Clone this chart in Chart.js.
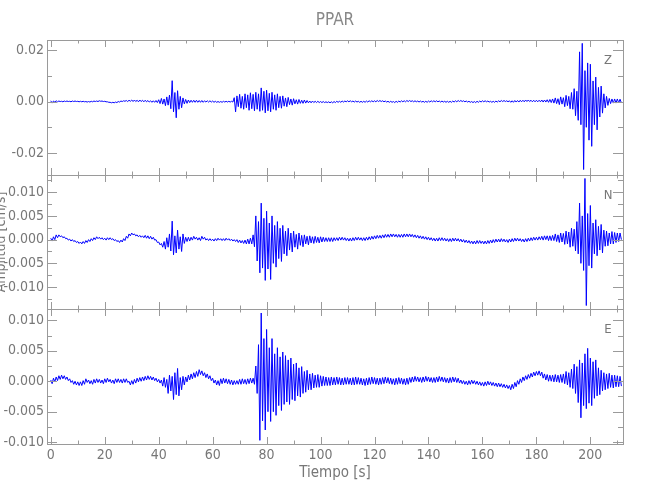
<!DOCTYPE html>
<html>
<head>
<meta charset="utf-8">
<script src="https://cdn.jsdelivr.net/npm/chart.js@4/dist/chart.umd.min.js"></script>
<style>
html,body{margin:0;padding:0;background:#ffffff;}
#wrap{width:650px;height:500px;}
</style>
</head>
<body>
<div id="wrap"><canvas id="c" width="650" height="500"></canvas></div>
<script>
// ---------- text ----------
const TITLE = 'PPAR';
const X_TITLE = 'Tiempo [s]';
const Y_TITLE = 'Amplitud [cm/s]';
const COMPONENTS = ['Z', 'N', 'E'];

// ---------- ticks ----------
const X_TICKS = [0, 20, 40, 60, 80, 100, 120, 140, 160, 180, 200];
const X_TICK_LABELS = ['0', '20', '40', '60', '80', '100', '120', '140', '160', '180', '200'];
const X_MINOR = [10, 30, 50, 70, 90, 110, 130, 150, 170, 190, 210];

const Z_TICKS = [-0.02, 0, 0.02];
const Z_TICK_LABELS = ['-0.02', '0.00', '0.02'];
const Z_MINOR = [-0.01, 0.01];

const N_TICKS = [-0.01, -0.005, 0, 0.005, 0.01];
const N_TICK_LABELS = ['-0.010', '-0.005', '0.000', '0.005', '0.010'];
const N_MINOR = [-0.0125, -0.0075, -0.0025, 0.0025, 0.0075, 0.0125];

const E_TICKS = [-0.01, -0.005, 0, 0.005, 0.01];
const E_TICK_LABELS = ['-0.010', '-0.005', '0.000', '0.005', '0.010'];
const E_MINOR = [-0.0075, -0.0025, 0.0025, 0.0075];

// ---------- data ----------
// Each trace is read as the maximum (HI) and minimum (LO) of the ground velocity
// inside consecutive 1 s windows starting at t = 0 s. Values in units of 1e-4 cm/s.
const UNIT = 1e-4;

const Z_HI = [
 3,2,3,2,1,2,2,1,2,2,
 1,1,1,0,0,1,2,2,3,2,
 1,-1,-3,-3,-2,0,2,3,4,5,
 6,6,5,6,5,5,4,3,3,4,
 7,12,10,18,25,81,35,42,20,14,
 8,6,5,5,5,4,4,3,3,3,
 2,1,0,0,1,1,1,1,15,22,
 28,20,30,26,34,28,36,30,53,40,
 44,32,36,26,30,20,22,14,16,10,
 11,7,8,5,6,4,2,2,1,1,
 0,0,-1,-1,-1,0,1,1,2,2,
 3,3,2,2,1,1,1,2,3,3,
 3,4,4,3,2,1,1,0,1,2,
 3,3,4,4,3,3,2,2,1,1,
 2,3,3,3,2,2,1,1,1,2,
 3,4,4,3,2,1,0,0,1,2,
 3,3,2,1,1,2,3,4,4,3,
 3,3,4,4,5,5,6,6,5,5,
 5,5,6,6,7,8,10,14,11,18,
 15,24,20,35,50,40,193,226,120,150,
 145,80,95,55,60,30,20,12,10,10,
 10,9
];
const Z_LO = [
 -6,-2,-1,0,-1,0,0,-1,0,0,
 -1,-1,-1,-2,-2,-1,0,0,1,0,
 -1,-3,-5,-5,-4,-2,0,1,0,1,
 0,0,-1,0,-1,-1,-2,-3,-3,-4,
 -8,-10,-16,-14,-28,-40,-63,-30,-24,-9,
 -7,-4,-3,-3,-3,-3,-3,-2,-2,-2,
 -3,-3,-3,-3,-2,-2,-2,-2,-40,-20,
 -26,-30,-24,-34,-28,-36,-30,-38,-34,-44,
 -36,-40,-30,-34,-24,-26,-18,-20,-12,-14,
 -9,-10,-7,-7,-6,-5,-5,-4,-4,-4,
 -4,-4,-4,-5,-5,-4,-3,-3,-2,-1,
 -1,-1,-2,-2,-3,-3,-3,-2,-1,-1,
 -1,0,0,-1,-2,-3,-3,-4,-3,-2,
 -1,-1,0,0,-1,-1,-2,-2,-3,-3,
 -2,-1,-1,-1,-2,-2,-3,-3,-3,-2,
 -1,0,0,-1,-2,-3,-4,-4,-3,-2,
 -1,-1,-2,-3,-3,-2,-1,0,0,-1,
 -3,-3,-2,-2,-1,-1,0,0,-1,-1,
 -1,-1,-2,-2,-3,-4,-6,-8,-12,-10,
 -20,-16,-28,-30,-55,-73,-90,-264,-100,-150,
 -174,-90,-110,-60,-45,-25,-15,-8,-6,-6,
 -5,-5
];

const N_HI = [
 3,6,10,10,8,6,3,1,0,-2,
 -4,-5,-4,-2,0,2,4,6,5,4,
 3,4,4,2,0,-2,-1,2,7,12,
 14,12,10,9,8,9,8,7,5,0,
 -5,-8,-4,4,12,39,8,20,6,12,
 5,5,5,7,5,4,7,5,2,2,
 1,2,3,2,2,3,2,1,0,0,
 -1,-2,-1,1,3,10,50,38,77,45,
 60,35,50,30,38,24,30,18,24,14,
 18,11,14,9,10,7,8,6,7,5,
 6,5,4,4,4,4,4,5,5,4,
 3,3,4,5,5,4,4,5,6,7,
 8,9,9,10,11,11,12,12,11,11,
 11,12,12,12,11,10,9,8,7,6,
 5,4,3,3,4,4,3,2,2,3,
 3,2,1,0,-1,-2,-3,-3,-2,-2,
 -3,-3,-2,-1,0,1,1,2,1,0,
 1,2,3,3,2,1,2,3,4,5,
 5,6,7,8,8,8,9,12,10,14,
 13,18,16,24,22,38,77,50,129,55,
 72,35,42,28,32,20,18,14,17,15,
 14,14
];
const N_LO = [
 -3,0,4,6,4,2,-1,-3,-4,-6,
 -8,-9,-8,-6,-4,-2,0,2,1,0,
 -1,0,0,-2,-4,-6,-5,-2,3,8,
 10,8,6,5,4,3,2,1,-1,-6,
 -11,-16,-20,-16,-24,-32,-28,-20,-25,-8,
 -4,-3,-1,1,-1,-2,1,-1,-2,-2,
 -3,-2,-1,-2,-2,-1,-2,-3,-4,-6,
 -7,-8,-9,-9,-9,-15,-45,-70,-60,-86,
 -62,-84,-50,-58,-40,-46,-30,-34,-22,-26,
 -16,-20,-12,-15,-9,-11,-7,-8,-6,-7,
 -5,-4,-4,-4,-4,-2,-2,-1,-1,-2,
 -3,-3,-2,-1,-1,-2,-2,-1,0,1,
 2,3,3,4,5,5,6,6,5,5,
 5,6,6,6,5,4,3,2,1,0,
 -1,-2,-3,-3,-2,-2,-3,-4,-4,-3,
 -3,-4,-5,-6,-7,-8,-9,-9,-8,-8,
 -9,-9,-8,-7,-6,-5,-5,-4,-5,-6,
 -5,-4,-3,-3,-4,-5,-4,-3,-2,-1,
 -1,0,-1,0,-2,-2,-2,-4,-6,-5,
 -10,-9,-16,-14,-24,-30,-50,-65,-139,-55,
 -60,-30,-34,-22,-28,-14,-13,-9,-9,-6,
 -4,0
];

const E_HI = [
 2,5,7,9,10,9,7,4,1,0,
 -1,-1,1,4,2,1,3,4,3,2,
 4,5,3,2,4,4,3,4,4,0,
 1,3,5,6,7,8,9,8,7,5,
 3,2,6,3,10,8,14,21,6,8,
 7,10,12,14,16,19,17,14,12,9,
 5,2,1,4,5,4,3,2,1,1,
 3,4,3,4,5,5,25,60,112,70,
 85,55,70,45,55,40,48,42,35,38,
 28,30,22,24,16,18,12,13,10,11,
 9,8,7,6,7,6,7,6,5,6,
 6,5,6,7,6,5,4,5,6,7,
 6,5,5,6,7,6,5,4,5,6,
 5,4,5,6,7,8,7,6,7,8,
 7,6,6,7,8,7,6,5,6,7,
 6,5,2,1,0,1,2,1,0,-1,
 -2,-1,0,-1,-2,-3,-3,-4,-5,-6,
 -7,-5,-2,1,4,7,9,11,13,15,
 16,17,15,12,11,10,10,11,10,11,
 12,16,14,20,28,24,35,30,45,54,
 38,32,35,22,18,14,12,13,10,10,
 9,8
];
const E_LO = [
 -4,-1,1,3,4,3,1,-2,-5,-6,
 -7,-7,-5,-2,-4,-5,-3,-2,-3,-4,
 -2,-1,-3,-4,-2,-2,-3,-2,-2,-6,
 -5,-3,-1,0,1,2,3,2,1,-1,
 -3,-8,-10,-20,-16,-30,-22,-24,-14,-6,
 -1,2,4,6,8,11,9,6,4,1,
 -3,-6,-7,-4,-3,-4,-5,-6,-5,-5,
 -5,-4,-5,-4,-3,-5,-20,-97,-65,-80,
 -50,-66,-50,-56,-40,-48,-38,-34,-38,-30,
 -32,-24,-26,-20,-18,-14,-14,-11,-10,-10,
 -8,-7,-7,-7,-6,-6,-5,-6,-6,-5,
 -5,-6,-6,-5,-5,-6,-7,-6,-5,-4,
 -5,-6,-5,-4,-3,-4,-5,-6,-5,-4,
 -5,-6,-5,-2,-1,0,-1,-2,-1,0,
 -1,-2,-2,-1,0,-1,-2,-3,-2,-1,
 -2,-3,-4,-5,-6,-5,-4,-5,-6,-7,
 -8,-7,-6,-7,-8,-9,-9,-10,-11,-12,
 -14,-12,-9,-5,-2,1,3,5,7,9,
 10,9,5,2,0,0,-1,-1,-2,-2,
 -4,-6,-10,-12,-20,-35,-60,-40,-45,-36,
 -40,-28,-24,-22,-16,-14,-12,-10,-11,-9,
 -9,-8
];

// ---------- build ----------
function tracePoints(hi, lo) {
  const pts = [];
  for (let i = 0; i < hi.length; i++) {
    pts.push({x: i, y: hi[i] * UNIT});
    pts.push({x: i + 0.5, y: lo[i] * UNIT});
  }
  return pts;
}

const FONT_FAMILY = "'Liberation Sans Narrow', 'DejaVu Sans Condensed', 'Liberation Sans', sans-serif";
const TEXT_COLOR = '#777777';
const TITLE_COLOR = '#888888';
const FRAME_COLOR = '#9a9a9a';
const TRACE_COLOR = '#0000ff';

const PANELS = [
  {id: 'yZ', name: COMPONENTS[0], ticks: Z_TICKS, labels: Z_TICK_LABELS, minor: Z_MINOR},
  {id: 'yN', name: COMPONENTS[1], ticks: N_TICKS, labels: N_TICK_LABELS, minor: N_MINOR},
  {id: 'yE', name: COMPONENTS[2], ticks: E_TICKS, labels: E_TICK_LABELS, minor: E_MINOR}
];

function yAxis(panel, min, max) {
  return {
    type: 'linear',
    position: 'left',
    stack: 'panels',
    stackWeight: 1,
    min: min,
    max: max,
    grid: {display: false, drawTicks: false},
    border: {display: false},
    ticks: {
      autoSkip: false,
      padding: 3,
      color: TEXT_COLOR,
      font: {family: FONT_FAMILY, size: 14},
      callback: (v) => {
        const k = panel.ticks.findIndex(t => Math.abs(t - v) < 1e-9);
        return k >= 0 ? panel.labels[k] : '';
      }
    },
    afterBuildTicks: (s) => { s.ticks = panel.ticks.map(v => ({value: v})); },
    afterFit: (s) => { s.width = 47; }
  };
}

const framePlugin = {
  id: 'seisFrame',
  afterDraw(chart) {
    const ctx = chart.ctx;
    const xs = chart.scales.x;
    const left = chart.chartArea.left, right = chart.chartArea.right;
    ctx.save();
    ctx.strokeStyle = FRAME_COLOR;
    ctx.lineWidth = 1;
    for (const p of PANELS) {
      const s = chart.scales[p.id];
      const top = Math.round(s.top), bottom = Math.round(s.bottom);
      ctx.strokeRect(Math.round(left) + 0.5, top + 0.5, Math.round(right - left), bottom - top);
      ctx.beginPath();
      const xt = (v, len) => {
        const px = Math.round(xs.getPixelForValue(v)) + 0.5;
        ctx.moveTo(px, top); ctx.lineTo(px, top + len);
        ctx.moveTo(px, bottom); ctx.lineTo(px, bottom - len);
      };
      X_TICKS.forEach(v => xt(v, 7));
      X_MINOR.forEach(v => xt(v, 3.5));
      const yt = (v, len) => {
        const py = Math.round(s.getPixelForValue(v)) + 0.5;
        ctx.moveTo(left, py); ctx.lineTo(left + len, py);
        ctx.moveTo(right, py); ctx.lineTo(right - len, py);
      };
      p.ticks.forEach(v => yt(v, 10));
      p.minor.forEach(v => yt(v, 5));
      ctx.stroke();
      ctx.fillStyle = TEXT_COLOR;
      ctx.font = '13px ' + FONT_FAMILY;
      ctx.textAlign = 'center';
      ctx.textBaseline = 'middle';
      ctx.fillText(p.name, right - 15, top + 21);
    }
    // y-axis title, rotated, partly cut by the left edge as in the original
    const sN = chart.scales.yN;
    ctx.translate(5, (sN.top + sN.bottom) / 2);
    ctx.rotate(-Math.PI / 2);
    ctx.font = '14px ' + FONT_FAMILY;
    ctx.textAlign = 'center';
    ctx.textBaseline = 'alphabetic';
    ctx.fillStyle = TEXT_COLOR;
    ctx.fillText(Y_TITLE, 0, 0);
    ctx.restore();
  }
};

const datasets = [
  {label: COMPONENTS[0], data: tracePoints(Z_HI, Z_LO), yAxisID: 'yZ'},
  {label: COMPONENTS[1], data: tracePoints(N_HI, N_LO), yAxisID: 'yN'},
  {label: COMPONENTS[2], data: tracePoints(E_HI, E_LO), yAxisID: 'yE'}
].map(d => Object.assign(d, {
  borderColor: TRACE_COLOR, borderWidth: 1, pointRadius: 0, fill: false, tension: 0, xAxisID: 'x'
}));

new Chart(document.getElementById('c'), {
  type: 'line',
  data: {datasets: datasets},
  plugins: [framePlugin],
  options: {
    responsive: false,
    animation: false,
    devicePixelRatio: 1,
    layout: {padding: {left: 0, right: 27, top: 0, bottom: 0}},
    plugins: {
      legend: {display: false},
      tooltip: {enabled: false},
      title: {
        display: true, text: TITLE, fullSize: false, color: TITLE_COLOR,
        font: {family: FONT_FAMILY, size: 17, weight: 'normal', lineHeight: 1.2},
        padding: {top: 10, bottom: 9.6}
      }
    },
    scales: {
      x: {
        type: 'linear', position: 'bottom', min: -1.4, max: 212.1,
        grid: {display: false, drawTicks: false},
        border: {display: false},
        ticks: {
          autoSkip: false, maxRotation: 0, padding: 3, color: TEXT_COLOR,
          font: {family: FONT_FAMILY, size: 14},
          callback: (v) => { const k = X_TICKS.indexOf(v); return k >= 0 ? X_TICK_LABELS[k] : ''; }
        },
        afterBuildTicks: (s) => { s.ticks = X_TICKS.map(v => ({value: v})); },
        title: {display: true, text: X_TITLE, color: TEXT_COLOR,
          font: {family: FONT_FAMILY, size: 15, lineHeight: 1.2}, padding: {top: 0, bottom: 18}},
        afterFit: (s) => { s.height = 56; }
      },
      yE: yAxis(PANELS[2], -0.0103, 0.0118),
      yN: yAxis(PANELS[1], -0.0147, 0.0137),
      yZ: yAxis(PANELS[0], -0.0284, 0.0239)
    }
  }
});
</script>
</body>
</html>
